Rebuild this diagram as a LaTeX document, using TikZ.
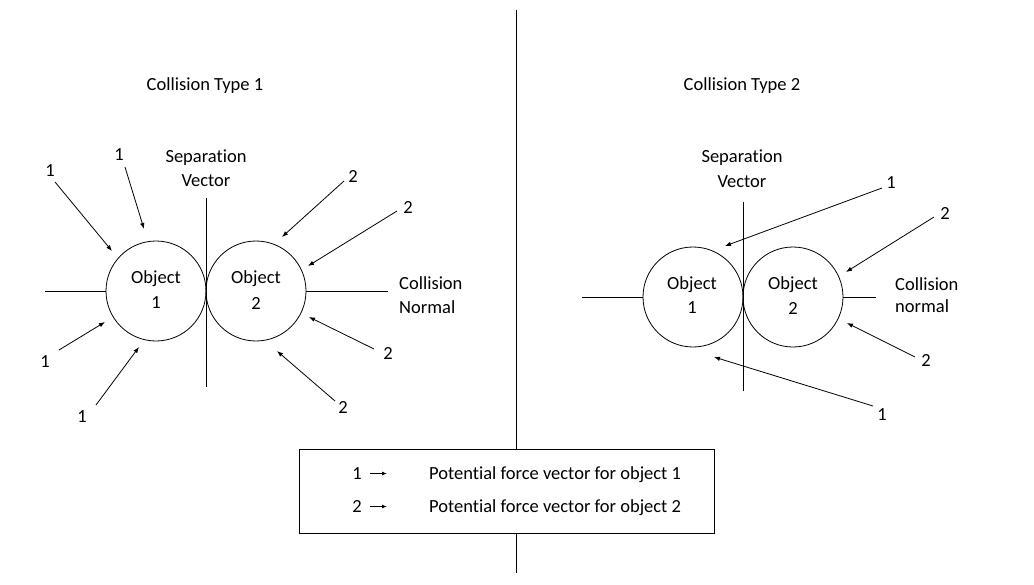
\documentclass[tikz,border=0pt]{standalone}
\usepackage{fontspec}
\setmainfont{Carlito}[Ligatures={CommonOff}]
\usetikzlibrary{arrows.meta}
\begin{document}
\begin{tikzpicture}[x=1pt,y=-1pt,
  every node/.style={font=\fontsize{18.5}{23.5}\selectfont, inner sep=0pt},
  obj/.style={circle, draw, line width=0.8pt, minimum size=100pt, align=center},
  ln/.style={line width=0.8pt},
  force/.style={line width=0.8pt, -{Latex[length=6pt,width=4.5pt]}},
  keyarrow/.style={line width=0.8pt, -{Latex[length=5pt,width=4pt]}},
  lbl/.style={anchor=center},
  txt/.style={align=center}]
\useasboundingbox (0,0) rectangle (1034,584);
% divider
\coordinate (dt) at (516,10);
\coordinate (db) at (516,573);
\draw[ln] (dt) -- (db);
% ===== left panel =====
\node[txt] (t1) at (205,86) {Collision Type 1};
\node[obj] (o1) at (156,291) {};
\node[obj] (o2) at (256,291) {};
\node (o1t) at (156,279) {Object};
\node (o1n) at (156,303) {1};
\node (o2t) at (256,279) {Object};
\node (o2n) at (256,303) {2};
\coordinate (lL) at (45,291);
\coordinate (lR) at (388,291);
\draw[ln] (lL) -- (o1.west);
\draw[ln] (o2.east) -- (lR);
\coordinate (sT) at (206,198);
\coordinate (sB) at (206,387);
\draw[ln] (sT) -- (sB);
\node (sep1a) at (206,158) {Separation};
\node (sep1b) at (206,181) {Vector};
\node[anchor=west] (cn1a) at (399,283) {Collision};
\node[anchor=west] (cn1b) at (399,307) {Normal};
% forces object 1
\node[lbl] (a1l) at (50,171) {1};
\coordinate (a1s) at (55,182); \coordinate (a1e) at (112,251);
\draw[force] (a1s) -- (a1e);
\node[lbl] (a2l) at (119,155) {1};
\coordinate (a2s) at (125,167); \coordinate (a2e) at (144,229);
\draw[force] (a2s) -- (a2e);
\node[lbl] (a3l) at (45,362) {1};
\coordinate (a3s) at (59,350); \coordinate (a3e) at (105,322);
\draw[force] (a3s) -- (a3e);
\node[lbl] (a4l) at (82,417) {1};
\coordinate (a4s) at (96,405); \coordinate (a4e) at (139,347);
\draw[force] (a4s) -- (a4e);
% forces object 2
\node[lbl] (b1l) at (353,176) {2};
\coordinate (b1s) at (344,181); \coordinate (b1e) at (282,237);
\draw[force] (b1s) -- (b1e);
\node[lbl] (b2l) at (408,207) {2};
\coordinate (b2s) at (397,211); \coordinate (b2e) at (308,266);
\draw[force] (b2s) -- (b2e);
\node[lbl] (b3l) at (388,353) {2};
\coordinate (b3s) at (374,349); \coordinate (b3e) at (309,317);
\draw[force] (b3s) -- (b3e);
\node[lbl] (b4l) at (343,407) {2};
\coordinate (b4s) at (335,401); \coordinate (b4e) at (277,351);
\draw[force] (b4s) -- (b4e);
% ===== right panel =====
\node[txt] (t2) at (742,86) {Collision Type 2};
\node[obj] (p1) at (693,297) {};
\node[obj] (p2) at (793,297) {};
\node (p1t) at (692,285) {Object};
\node (p1n) at (692,308) {1};
\node (p2t) at (793,285) {Object};
\node (p2n) at (793,308) {2};
\coordinate (mL) at (582,297);
\coordinate (mR) at (876,297);
\draw[ln] (mL) -- (p1.west);
\draw[ln] (p2.east) -- (mR);
\coordinate (uT) at (743,202);
\coordinate (uB) at (743,391);
\draw[ln] (uT) -- (uB);
\node (sep2a) at (742,158) {Separation};
\node (sep2b) at (742,182) {Vector};
\node[anchor=west] (cn2a) at (895,284) {Collision};
\node[anchor=west] (cn2b) at (895,306) {normal};
\node[lbl] (c1l) at (891,183) {1};
\coordinate (c1s) at (882,188); \coordinate (c1e) at (725,246);
\draw[force] (c1s) -- (c1e);
\node[lbl] (c2l) at (945,213) {2};
\coordinate (c2s) at (934,217); \coordinate (c2e) at (846,272);
\draw[force] (c2s) -- (c2e);
\node[lbl] (c3l) at (926,360) {2};
\coordinate (c3s) at (915,357); \coordinate (c3e) at (847,323);
\draw[force] (c3s) -- (c3e);
\node[lbl] (c4l) at (882,415) {1};
\coordinate (c4s) at (873,406); \coordinate (c4e) at (714,357);
\draw[force] (c4s) -- (c4e);
% ===== legend =====
\node[draw, fill=white, line width=0.8pt, minimum width=415pt, minimum height=84pt] (leg) at (506.5,491) {};
\node[anchor=base] (k1) at (357,479) {1};
\coordinate (k1s) at (370,473.5); \coordinate (k1e) at (387,473.5);
\draw[keyarrow] (k1s) -- (k1e);
\node[anchor=base west] (k1t) at (429,479) {Potential force vector for object 1};
\node[anchor=base] (k2) at (357,512) {2};
\coordinate (k2s) at (370,506.5); \coordinate (k2e) at (387,506.5);
\draw[keyarrow] (k2s) -- (k2e);
\node[anchor=base west] (k2t) at (429,512) {Potential force vector for object 2};
\end{tikzpicture}
\end{document}
